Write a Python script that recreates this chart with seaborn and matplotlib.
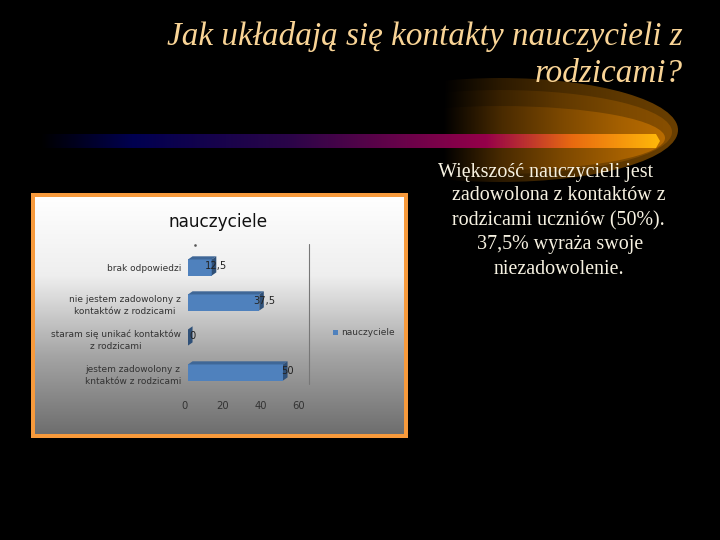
import numpy as np
import pandas as pd
import matplotlib
matplotlib.use("Agg")
import matplotlib.pyplot as plt
import seaborn as sns
from matplotlib.colors import LinearSegmentedColormap
from matplotlib.patches import Ellipse, Polygon, Rectangle
from matplotlib.transforms import ScaledTranslation

categories = ["brak odpowiedzi",
              "nie jestem zadowolony z\nkontaktów z rodzicami",
              "staram się unikać kontaktów\nz rodzicami",
              "jestem zadowolony z\nkntaktów z rodzicami"]
values = [12.5, 37.5, 0, 50]
value_labels = ["12,5", "37,5", "0", "50"]
x_ticks = [0, 20, 40, 60]
series_name = "nauczyciele"
slide_title = ["Jak układają się kontakty nauczycieli z", "rodzicami?"]
body_lines = ["Większość nauczycieli jest", "zadowolona z kontaktów z",
              "rodzicami uczniów (50%).", "37,5% wyraża swoje", "niezadowolenie."]
body_centers = [546, 559, 558, 560, 559]

W, H = 720, 540
BLUE = "#4f81bd"

sns.set_theme(style="white")
plt.rcParams["font.family"] = "DejaVu Sans"

fig = plt.figure(figsize=(W / 100, H / 100), dpi=100, facecolor="black")


def pixel_axes(x0, y0, x1, y1, **kw):
    # axes given in image pixels, y measured from the top
    return fig.add_axes([x0 / W, 1 - y1 / H, (x1 - x0) / W, (y1 - y0) / H], **kw)


# slide background, works in image pixels
bg = pixel_axes(0, 0, W, H)
bg.axis("off")

# orange glow behind the rule, three nested layers
grad = np.linspace(0, 1, 256).reshape(1, -1)
layers = [(["#000000", "#2c1a00", "#4a2c00", "#5e3800", "#6a3f00"], (500, 130), 356, 104, 1),
          (["#000000", "#3a2200", "#613900", "#7c4900", "#8a5000"], (500, 132), 344, 84, 2),
          (["#000000", "#4a2b00", "#7c4800", "#a56000", "#c07000"], (500, 138), 330, 64, 3)]
for colors, center, ew, eh, z in layers:
    cmap = LinearSegmentedColormap.from_list("glow", colors)
    im = bg.imshow(grad, cmap=cmap, extent=(443, 680, 200, 70), aspect="auto", zorder=z)
    im.set_clip_path(Ellipse(center, ew, eh, transform=bg.transData))

# gradient rule
rule = LinearSegmentedColormap.from_list(
    "rule", [(0, "#000000"), (0.15, "#000050"), (0.4, "#2a0548"), (0.72, "#95004a"),
             (0.86, "#e86a10"), (1, "#ffb80a")])
bar_img = bg.imshow(grad, cmap=rule, extent=(40, 660, 148, 134), aspect="auto", zorder=4)
bar_img.set_clip_path(Polygon([(40, 134), (656, 134), (660, 141), (656, 148), (40, 148)],
                              transform=bg.transData))

# texts
for line, y in zip(slide_title, [36, 74]):
    bg.text(683, y, line, ha="right", va="center", color="#f9d496", fontsize=23.9,
            family="Liberation Serif", style="italic", zorder=5)
for line, cx, y in zip(body_lines, body_centers, [172, 196, 221, 245, 269]):
    bg.text(cx, y, line, ha="center", va="center", color="#f7f2e2", fontsize=14.4,
            family="Liberation Serif", zorder=5)

# chart panel, white to grey
bg.add_patch(Rectangle((31, 193), 377, 245, facecolor="#f79a3c", edgecolor="none", zorder=5))
panel = LinearSegmentedColormap.from_list("panel", ["#ffffff", "#eeeeee", "#a5a5a5", "#6e6e6e"])
bg.imshow(np.linspace(0, 1, 256).reshape(-1, 1), cmap=panel, extent=(35, 404, 434, 197),
          aspect="auto", zorder=6)
bg.set_xlim(0, W)
bg.set_ylim(H, 0)

bg.text(218, 222, series_name, ha="center", va="center", fontsize=12.2, color="#111111", zorder=7)
bg.plot([309, 309], [244, 384], color="#777777", lw=0.8, zorder=7)
bg.plot([195], [245], marker="s", ms=0.8, color="#555555", zorder=7)

# bars
df = pd.DataFrame({"kategoria": categories, "wartosc": values})
ax = pixel_axes(188, 250, 302, 390)
ax.patch.set_alpha(0)
sns.barplot(data=df, y="kategoria", x="wartosc", order=categories, color=BLUE,
            saturation=1, width=0.46, linewidth=0, ax=ax, zorder=3)
ax.set_xlim(0, x_ticks[-1])
ax.set_ylim(3.5, -0.5)
ax.set_xticks(x_ticks)
ax.set_xlabel("")
ax.set_ylabel("")
sns.despine(ax=ax, left=True, bottom=True)
ax.tick_params(axis="x", length=0, labelsize=7.2, labelcolor="#333333", pad=8)
ax.tick_params(axis="y", length=0, labelsize=6.5, labelcolor="#333333", pad=5)
shift = ScaledTranslation(-3 / 100, 0, fig.dpi_scale_trans)
for lab in ax.get_xticklabels():
    lab.set_transform(lab.get_transform() + shift)
for lab in ax.get_yticklabels():
    lab.set_multialignment("center")
    lab.set_linespacing(1.45)

# fake 3D depth on each bar
dx, dy = 2.4, 0.09
for patch, label in zip(ax.patches, value_labels):
    x0, y0 = patch.get_x(), patch.get_y()
    w, h = patch.get_width(), patch.get_height()
    ax.add_patch(Polygon([(x0, y0), (x0 + dx, y0 - dy), (x0 + w + dx, y0 - dy), (x0 + w, y0)],
                         facecolor="#3f6797", edgecolor="none", zorder=4))
    ax.add_patch(Polygon([(x0 + w, y0), (x0 + w + dx, y0 - dy), (x0 + w + dx, y0 + h - dy), (x0 + w, y0 + h)],
                         facecolor="#2f5078", edgecolor="none", zorder=4))
    ax.text(x0 + w + 2.5, y0 + h / 2 - 0.04, label, ha="center", va="center", fontsize=7.2,
            color="#222222", zorder=5)

# legend
bg.add_patch(Rectangle((333, 330), 4.5, 4.5, facecolor=BLUE, edgecolor="none", zorder=7))
bg.text(341, 332.5, series_name, ha="left", va="center", fontsize=6.5, color="#333333", zorder=7)

fig.savefig("out.png", dpi=100, facecolor="black")
